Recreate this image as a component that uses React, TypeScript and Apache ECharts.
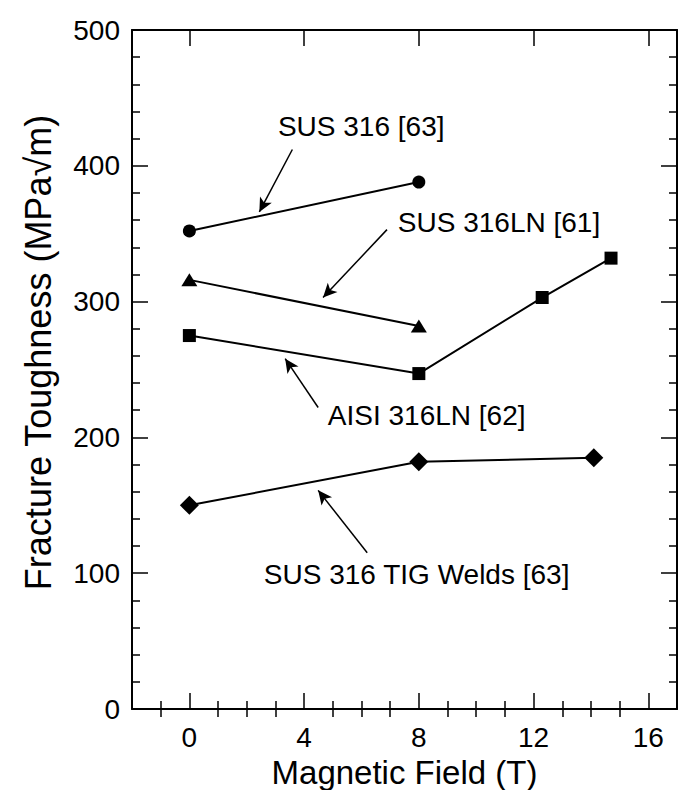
import React, { useEffect, useRef } from "react";
import * as echarts from "echarts";

// ---- data ----
const susX = [0, 8];
const susY = [352, 388];
const sus316lnX = [0, 8];
const sus316lnY = [316, 282];
const aisiX = [0, 8, 12.3, 14.7];
const aisiY = [275, 247, 303, 332];
const tigX = [0, 8, 14.1];
const tigY = [150, 182, 185];

const xMajorTicks = [0, 4, 8, 12, 16];
const xMinorTicks = [-1, 1, 2, 3, 5, 6, 7, 9, 10, 11, 13, 14, 15];

// annotation labels: [x, y, text]
const annotLabels: [number, number, string][] = [
  [3.07, 429, "SUS 316 [63]"],
  [7.25, 358, "SUS 316LN [61]"],
  [4.81, 216, "AISI 316LN [62]"],
  [2.58, 99, "SUS 316 TIG Welds [63]"],
];
// arrows: [fromX, fromY, toX, toY]
const arrows: [number, number, number, number][] = [
  [3.59, 412, 2.44, 366],
  [6.89, 353, 4.66, 303],
  [4.49, 222, 3.34, 258],
  [6.2, 115, 4.49, 161],
];

const FONT = "'Liberation Sans', Arial, Helvetica, sans-serif";

const zip = (xs: number[], ys: number[]) => xs.map((x, i) => [x, ys[i]]);

export default function App() {
  const ref = useRef<HTMLDivElement>(null);
  useEffect(() => {
    if (!ref.current) return;
    const chart = echarts.init(ref.current, undefined, { renderer: "svg" });
    const axisLine = { show: true, onZero: false, lineStyle: { color: "#000", width: 2 } };
    const baseX = { type: "value", min: -2, max: 17, gridIndex: 0, splitLine: { show: false } };
    const tick = (len: number, values?: number[]) => ({
      show: true,
      inside: false,
      length: -len,
      ...(values ? { customValues: values } : {}),
      lineStyle: { color: "#000", width: 1.5 },
    });
    const lineSeries = (name: string, data: number[][], symbol: string, size: any) => ({
      name,
      type: "line",
      data,
      symbol,
      symbolSize: size,
      lineStyle: { color: "#000", width: 2 },
      itemStyle: { color: "#000" },
      xAxisIndex: 0,
      yAxisIndex: 0,
      z: 5,
    });
    chart.setOption({
      animation: false,
      grid: { left: 132, right: 2, top: 30, bottom: 81, outerBoundsMode: "none", containLabel: false },
      xAxis: [
        {
          ...baseX,
          position: "bottom",
          axisLine,
          axisTick: tick(16, xMajorTicks),
          axisLabel: { customValues: xMajorTicks, fontSize: 28, color: "#000", margin: 14, fontFamily: FONT },
          name: "Magnetic Field (T)",
          nameLocation: "middle",
          nameGap: 39,
          nameTextStyle: { fontSize: 33, color: "#000", fontFamily: FONT },
        },
        {
          ...baseX,
          position: "bottom",
          axisLine: { show: false },
          axisTick: tick(8, xMinorTicks),
          axisLabel: { show: false },
        },
        {
          ...baseX,
          position: "top",
          axisLine,
          axisTick: tick(16, xMajorTicks),
          axisLabel: { show: false },
        },
        {
          ...baseX,
          position: "top",
          axisLine: { show: false },
          axisTick: tick(8, xMinorTicks),
          axisLabel: { show: false },
        },
      ],
      yAxis: [
        {
          type: "value",
          min: 0,
          max: 500,
          interval: 100,
          position: "left",
          axisLine,
          axisTick: tick(16),
          minorTick: { show: true, splitNumber: 5, length: -8, lineStyle: { color: "#000", width: 1.5 } },
          axisLabel: { fontSize: 28, color: "#000", margin: 12, fontFamily: FONT },
          splitLine: { show: false },
          name: "Fracture Toughness (MPa√m)",
          nameLocation: "middle",
          nameGap: 76,
          nameTextStyle: { fontSize: 36, color: "#000", fontFamily: FONT, padding: [0, 0, 0, 34] },
        },
        {
          type: "value",
          min: 0,
          max: 500,
          interval: 100,
          position: "right",
          axisLine,
          axisTick: tick(16),
          minorTick: { show: true, splitNumber: 5, length: -8, lineStyle: { color: "#000", width: 1.5 } },
          axisLabel: { show: false },
          splitLine: { show: false },
        },
      ],
      series: [
        lineSeries("SUS 316 [63]", zip(susX, susY), "circle", 13),
        lineSeries("SUS 316LN [61]", zip(sus316lnX, sus316lnY), "triangle", [16, 13]),
        lineSeries("AISI 316LN [62]", zip(aisiX, aisiY), "rect", 13),
        lineSeries("SUS 316 TIG Welds [63]", zip(tigX, tigY), "diamond", 19),
        {
          name: "annotations",
          type: "scatter",
          xAxisIndex: 0,
          yAxisIndex: 0,
          symbolSize: 1,
          itemStyle: { color: "#fff", opacity: 0 },
          silent: true,
          data: annotLabels.map(([x, y, t]) => ({ value: [x, y], name: t })),
          label: {
            show: true,
            position: "right",
            distance: 0,
            formatter: "{b}",
            fontSize: 28,
            color: "#000",
            opacity: 1,
            textBorderWidth: 0,
            fontFamily: FONT,
            align: "left",
            verticalAlign: "middle",
          },
        },
        {
          name: "arrows",
          type: "line",
          xAxisIndex: 0,
          yAxisIndex: 0,
          data: [],
          itemStyle: { color: "#000" },
          lineStyle: { color: "#000" },
          markLine: {
            silent: true,
            symbol: ["none", "arrow"],
            symbolSize: [10, 14],
            label: { show: false },
            itemStyle: { color: "#000" },
            lineStyle: { color: "#000", width: 1.5, type: "solid" },
            emphasis: { disabled: true },
            data: arrows.map(([x1, y1, x2, y2]) => [{ coord: [x1, y1] }, { coord: [x2, y2] }]),
          },
        },
      ],
    });
    return () => chart.dispose();
  }, []);
  return <div ref={ref} style={{ width: 679, height: 790, position: "absolute", left: 0, top: 0, background: "#fff" }} />;
}
